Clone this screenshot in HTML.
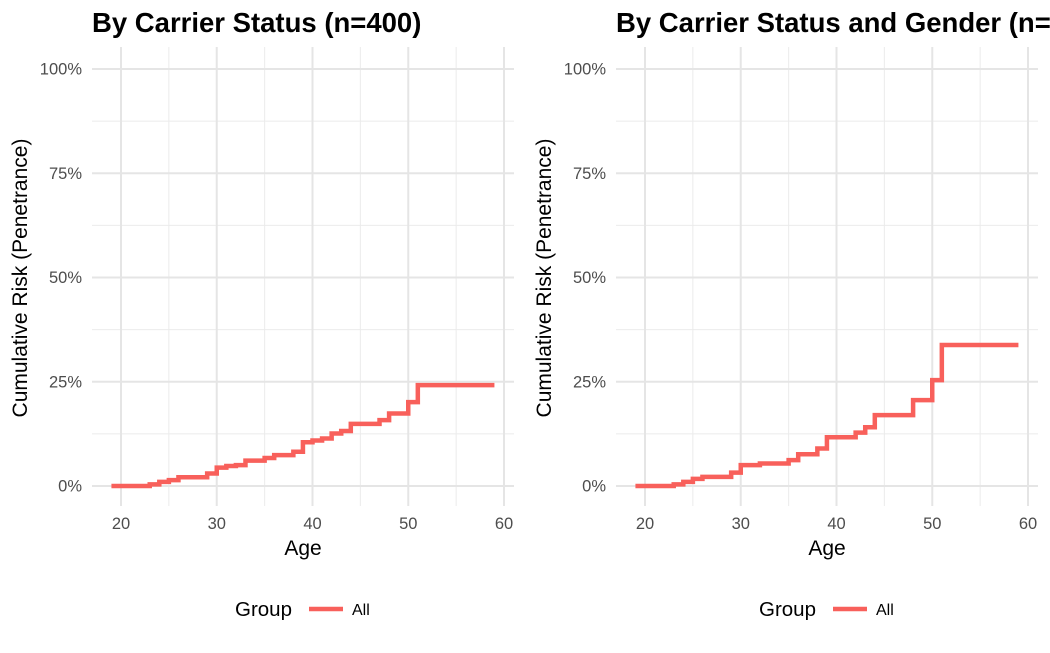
<!DOCTYPE html>
<html><head><meta charset="utf-8"><style>
body{margin:0;background:#fff;width:1050px;height:648px;overflow:hidden}
svg{font-family:"Liberation Sans",Arial,sans-serif}
</style></head><body>
<svg id="c" width="1050" height="648" xmlns="http://www.w3.org/2000/svg"></svg>
<script>
const xTicks=[20,30,40,50,60];
const xMinor=[25,35,45,55];
const yTicks=[0,25,50,75,100];
const yTickLabels=["0%","25%","50%","75%","100%"];
const yMinor=[12.5,37.5,62.5,87.5];
const titles=["By Carrier Status (n=400)","By Carrier Status and Gender (n=400)"];
const leftAges=[19,23,24,25,26,29,30,31,32,33,35,36,38,39,40,41,42,43,44,47,48,50,51,59];
const leftRisk=[0,0.4,1.0,1.4,2.1,3.0,4.4,4.8,5.0,6.1,6.7,7.4,8.2,10.5,10.9,11.4,12.6,13.2,14.9,15.8,17.4,20.1,24.2,24.2];
const rightAges=[19,23,24,25,26,29,30,32,35,36,38,39,42,43,44,48,50,51,59];
const rightRisk=[0,0.4,1.0,1.7,2.2,3.2,5.0,5.4,6.2,7.6,9.0,11.7,12.8,14.1,17.0,20.6,25.4,33.8,33.8];
const NS="http://www.w3.org/2000/svg";
const svg=document.getElementById('c');
function mk(t,a,p){const e=document.createElementNS(NS,t);for(const k in a)e.setAttribute(k,a[k]);(p||svg).appendChild(e);return e;}
function panel(off,idx,ages,risk){
  const g=mk('g',{transform:'translate('+off+',0)'});
  
  
  const X=v=>121+(v-20)*9.575, Y=v=>486-v*4.17;
  const L=92,R=514,T=47,B=506;
  yMinor.forEach(v=>{const l=mk('line',{x1:L,x2:R,y1:Y(v),y2:Y(v),stroke:'#ebebeb','stroke-width':1},g);});
  xMinor.forEach(v=>{const l=mk('line',{x1:X(v),x2:X(v),y1:T,y2:B,stroke:'#ebebeb','stroke-width':1},g);});
  yTicks.forEach((v,i)=>{const l=mk('line',{x1:L,x2:R,y1:Y(v),y2:Y(v),stroke:'#e5e5e5','stroke-width':2},g);
    const t=mk('text',{x:82,y:Y(v)+5.5,'text-anchor':'end','font-size':16.5,fill:'#4d4d4d'},g);t.textContent=yTickLabels[i];});
  xTicks.forEach(v=>{const l=mk('line',{x1:X(v),x2:X(v),y1:T,y2:B,stroke:'#e5e5e5','stroke-width':2},g);
    const t=mk('text',{x:X(v),y:529,'text-anchor':'middle','font-size':16.5,fill:'#4d4d4d'},g);t.textContent=v;});
  let d='M'+X(ages[0])+','+Y(risk[0]);
  for(let i=1;i<ages.length;i++){d+=' H'+X(ages[i])+' V'+Y(risk[i]);}
  const p=mk('path',{d:d,fill:'none',stroke:'#f8605b','stroke-width':4.5},g);
  
  
  const ti=mk('text',{x:92,y:32,'font-size':27.5,'font-weight':'bold',fill:'#000'},g);ti.textContent=titles[idx];
  
  const xt=mk('text',{x:303,y:555,'text-anchor':'middle','font-size':21,fill:'#000'},g);xt.textContent='Age';
  
  const yt=mk('text',{x:0,y:0,transform:'translate(27,278) rotate(-90)','text-anchor':'middle','font-size':21,fill:'#000'},g);yt.textContent='Cumulative Risk (Penetrance)';
  
  const lg=mk('g',{},g);
  const gt=mk('text',{x:235,y:616,'font-size':20.5,fill:'#000'},lg);gt.textContent='Group';
  
  const ll=mk('line',{x1:309,x2:343,y1:609,y2:609,stroke:'#f8605b','stroke-width':4.5},lg);
  
  const la=mk('text',{x:352,y:615,'font-size':16,fill:'#000'},lg);la.textContent='All';
  
}
panel(0,0,leftAges,leftRisk);
panel(524,1,rightAges,rightRisk);
</script>
</body></html>
